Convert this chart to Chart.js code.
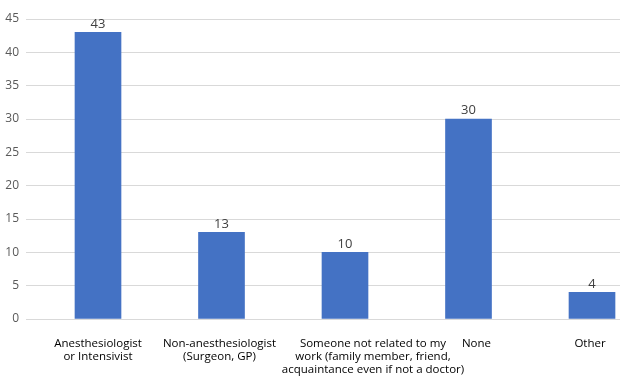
<!DOCTYPE html>
<html>
<head>
<meta charset="utf-8">
<script src="https://cdn.jsdelivr.net/npm/chart.js@4/dist/chart.umd.min.js"></script>
<style>
html,body{margin:0;padding:0;background:#fff;}
#wrap{width:628px;height:378px;}
</style>
</head>
<body>
<div id="wrap"><canvas id="c" width="628" height="378"></canvas></div>
<script>
const categories = [
  ["Anesthesiologist", "or Intensivist"],
  ["Non-anesthesiologist", "(Surgeon, GP)"],
  ["Someone not related to my", "work (family member, friend,", "acquaintance even if not a doctor)"],
  ["None"],
  ["Other"]
];
const values = [43, 13, 10, 30, 4];
const yTicks = [0, 5, 10, 15, 20, 25, 30, 35, 40, 45];

const FONT = "'Open Sans', 'DejaVu Sans', sans-serif";
// horizontal nudge (px) of individual x tick labels, styling only
const LABEL_NUDGE = [0, -2, 28, 8, -2];

const valueLabels = {
  id: 'valueLabels',
  afterDatasetsDraw(chart) {
    const ctx = chart.ctx;
    const meta = chart.getDatasetMeta(0);
    ctx.save();
    ctx.fillStyle = '#404040';
    ctx.font = "13px " + FONT;
    ctx.textAlign = 'center';
    ctx.textBaseline = 'bottom';
    meta.data.forEach((bar, i) => {
      ctx.fillText(String(values[i]), bar.x, bar.y - 2);
    });
    ctx.restore();
  }
};

new Chart(document.getElementById('c'), {
  type: 'bar',
  data: {
    datasets: [{
      data: values.map((v, i) => ({ x: i, y: v })),
      backgroundColor: '#4472C4',
      borderWidth: 0,
      barThickness: 46
    }]
  },
  options: {
    responsive: false,
    animation: false,
    events: [],
    layout: { padding: { top: 19, right: 8, left: 0, bottom: 0 } },
    plugins: { legend: { display: false }, tooltip: { enabled: false } },
    scales: {
      x: {
        type: 'linear',
        offset: false,
        min: -0.583,
        max: 4.2267,
        grid: { display: false },
        border: { display: false },
        afterBuildTicks: (scale) => { scale.ticks = categories.map((_, i) => ({ value: i })); },
        afterFit: (scale) => {
          scale.height = 59;
          scale.getPixelForTick = function (i) {
            return this.getPixelForValue(this.ticks[i].value) + (LABEL_NUDGE[i] || 0);
          };
        },
        ticks: {
          autoSkip: false,
          maxRotation: 0,
          minRotation: 0,
          padding: 10,
          color: '#000000',
          font: { family: FONT, size: 11.5, lineHeight: 1.13 },
          callback: (v) => categories[v] || ''
        }
      },
      y: {
        min: 0,
        max: 45,
        afterBuildTicks: (scale) => { scale.ticks = yTicks.map(v => ({ value: v })); },
        afterFit: (scale) => { scale.width = 26; },
        grid: { color: '#d9d9d9', lineWidth: 1, drawTicks: false },
        border: { display: false },
        ticks: {
          padding: 7,
          color: '#595959',
          font: { family: FONT, size: 12 }
        }
      }
    }
  },
  plugins: [valueLabels]
});
</script>
</body>
</html>
